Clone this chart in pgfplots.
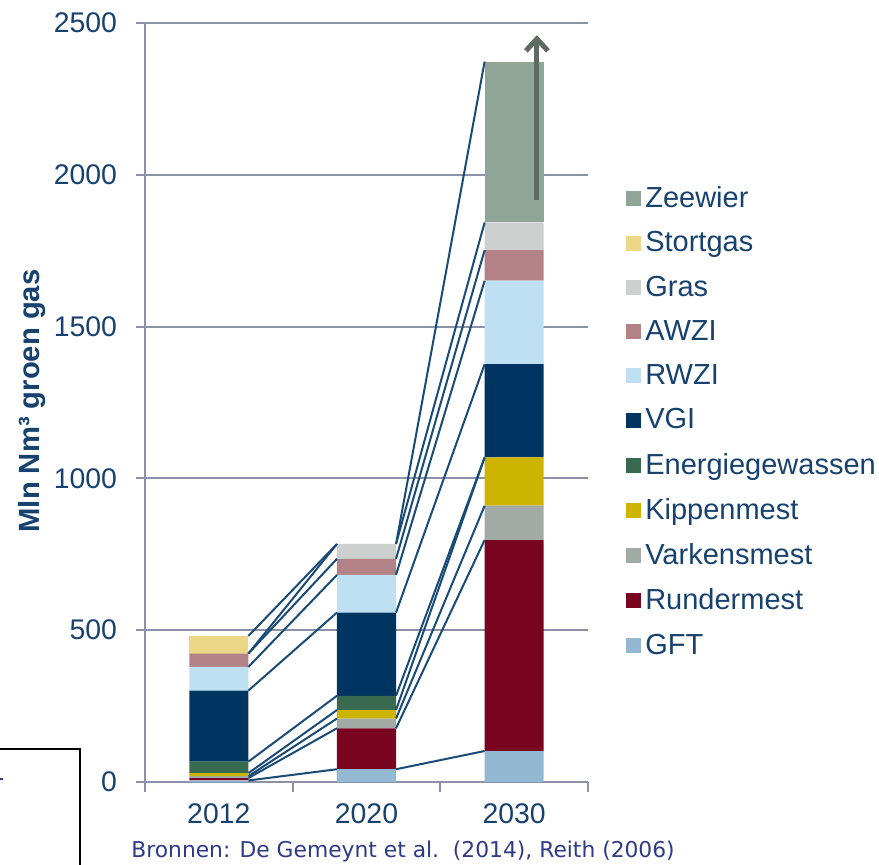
\documentclass[border=0pt]{standalone}
\usepackage{pgfplots}
\pgfplotsset{compat=1.18}
\usetikzlibrary{arrows.meta}
\usepackage{fontspec}
\setmainfont{Liberation Sans}
\newfontfamily\verd{DejaVu Sans}
\definecolor{czee}{HTML}{8FA597}
\definecolor{cstort}{HTML}{ECD787}
\definecolor{cgras}{HTML}{CCD1CF}
\definecolor{cawzi}{HTML}{B28286}
\definecolor{crwzi}{HTML}{BFDFF2}
\definecolor{cvgi}{HTML}{003561}
\definecolor{cenergie}{HTML}{386A4F}
\definecolor{ckippen}{HTML}{CDB400}
\definecolor{cvarkens}{HTML}{A2AAA5}
\definecolor{crunder}{HTML}{7A0520}
\definecolor{cgft}{HTML}{92B9D1}
\definecolor{tickc}{HTML}{17416E}
\definecolor{gridc}{HTML}{8B92A6}
\definecolor{linec}{HTML}{1A4B77}
\definecolor{arrowc}{HTML}{5D6B62}
\definecolor{bronc}{HTML}{2E3A87}
\pgfplotsset{
  common/.style={
    at={(0pt,0pt)}, anchor=south west,
    scale only axis, width=221.5pt, height=379.5pt,
    xmin=-0.5, xmax=2.5, ymin=0, ymax=2500, clip=false,
  }
}
\begin{document}
\begin{tikzpicture}
\useasboundingbox (-72.5pt,-41.5pt) rectangle (367pt,391pt);
\begin{axis}[common,
  ybar stacked, bar width=0.4,
  axis x line*=bottom, axis y line*=left,
  axis line style={draw=gridc, line width=1pt},
  xtick={0,1,2}, xticklabels={2012,2020,2030},
  xtick style={draw=none},
  extra x ticks={-0.5,0.5,1.5,2.5}, extra x tick labels={},
  extra x tick style={xtick style={draw=gridc, line width=1pt}, major tick length=5pt},
  ytick={0,500,1000,1500,2000,2500},
  ytick style={draw=gridc, line width=1pt},
  tick align=outside, major tick length=4.5pt,
  ymajorgrids, major grid style={draw=gridc, line width=1pt},
  /pgf/number format/assume math mode=true,
  /pgf/number format/set thousands separator={},
  tick label style={font=\fontsize{14.2}{17}\selectfont, text=tickc},
  xticklabel style={yshift=-3pt},
  yticklabel style={anchor=east, xshift=-6pt},
  ylabel={Mln Nm³ groen gas},
  ylabel style={at={(axis description cs:-0.255,0.502)}, anchor=center,
    font=\bfseries\fontsize{14.6}{17}\selectfont, text=tickc},
  legend style={at={(rel axis cs:1.072,0.796)}, anchor=north west, draw=none, fill=none,
    font=\fontsize{14.5}{17}\selectfont, text=tickc, row sep=6.6pt, cells={anchor=west}},
  reverse legend,
  legend image code/.code={\fill[#1] (0pt,-3.75pt) rectangle (7.5pt,3.75pt);},
]
\addplot[fill=cgft, draw=none] coordinates {(0,5) (1,42) (2,102)};
\addlegendentry{GFT}
\addplot[fill=crunder, draw=none] coordinates {(0,8) (1,135) (2,695)};
\addlegendentry{Rundermest}
\addplot[fill=cvarkens, draw=none] coordinates {(0,6) (1,32) (2,113)};
\addlegendentry{Varkensmest}
\addplot[fill=ckippen, draw=none] coordinates {(0,10) (1,28) (2,159)};
\addlegendentry{Kippenmest}
\addplot[fill=cenergie, draw=none] coordinates {(0,38) (1,47) (2,0)};
\addlegendentry{Energiegewassen}
\addplot[fill=cvgi, draw=none] coordinates {(0,234) (1,274) (2,307)};
\addlegendentry{VGI}
\addplot[fill=crwzi, draw=none] coordinates {(0,78) (1,124) (2,275)};
\addlegendentry{RWZI}
\addplot[fill=cawzi, draw=none] coordinates {(0,44) (1,53) (2,101)};
\addlegendentry{AWZI}
\addplot[fill=cgras, draw=none] coordinates {(0,0) (1,49) (2,91)};
\addlegendentry{Gras}
\addplot[fill=cstort, draw=none] coordinates {(0,58) (1,0) (2,0)};
\addlegendentry{Stortgas}
\addplot[fill=czee, draw=none] coordinates {(0,0) (1,0) (2,530)};
\addlegendentry{Zeewier}
\end{axis}
\begin{axis}[common, hide axis]
% series lines: connect the cumulative top of each series between the bars
\addplot[linec, line width=1pt, no marks] coordinates {(0.2,5) (0.8,42)};
\addplot[linec, line width=1pt, no marks] coordinates {(0.2,13) (0.8,177)};
\addplot[linec, line width=1pt, no marks] coordinates {(0.2,19) (0.8,209)};
\addplot[linec, line width=1pt, no marks] coordinates {(0.2,29) (0.8,237)};
\addplot[linec, line width=1pt, no marks] coordinates {(0.2,67) (0.8,284)};
\addplot[linec, line width=1pt, no marks] coordinates {(0.2,301) (0.8,558)};
\addplot[linec, line width=1pt, no marks] coordinates {(0.2,379) (0.8,682)};
\addplot[linec, line width=1pt, no marks] coordinates {(0.2,423) (0.8,735)};
\addplot[linec, line width=1pt, no marks] coordinates {(0.2,423) (0.8,784)};
\addplot[linec, line width=1pt, no marks] coordinates {(0.2,481) (0.8,784)};
\addplot[linec, line width=1pt, no marks] coordinates {(1.2,42) (1.8,102)};
\addplot[linec, line width=1pt, no marks] coordinates {(1.2,177) (1.8,797)};
\addplot[linec, line width=1pt, no marks] coordinates {(1.2,209) (1.8,910)};
\addplot[linec, line width=1pt, no marks] coordinates {(1.2,237) (1.8,1069)};
\addplot[linec, line width=1pt, no marks] coordinates {(1.2,284) (1.8,1069)};
\addplot[linec, line width=1pt, no marks] coordinates {(1.2,558) (1.8,1376)};
\addplot[linec, line width=1pt, no marks] coordinates {(1.2,682) (1.8,1651)};
\addplot[linec, line width=1pt, no marks] coordinates {(1.2,735) (1.8,1752)};
\addplot[linec, line width=1pt, no marks] coordinates {(1.2,784) (1.8,1843)};
\addplot[linec, line width=1pt, no marks] coordinates {(1.2,784) (1.8,2373)};
\draw[arrowc, line width=2.5pt, -{Straight Barb[length=6pt,width=11pt]}]
  (axis cs:2.154,1917) -- (axis cs:2.154,2460);
\end{axis}
\node[anchor=base west, inner sep=0pt, font=\verd\fontsize{10.9}{13}\selectfont, text=bronc]
  at (-7pt,-37.8pt) {Bronnen: De Gemeynt et al.\ \ (2014), Reith (2006)};
\draw[black, line width=1pt] (-80pt,16.5pt) -- (-32.5pt,16.5pt) -- (-32.5pt,-50pt);
\draw[bronc, line width=1.2pt] (-73pt,1.5pt) -- (-71pt,1.5pt);
\end{tikzpicture}
\end{document}
